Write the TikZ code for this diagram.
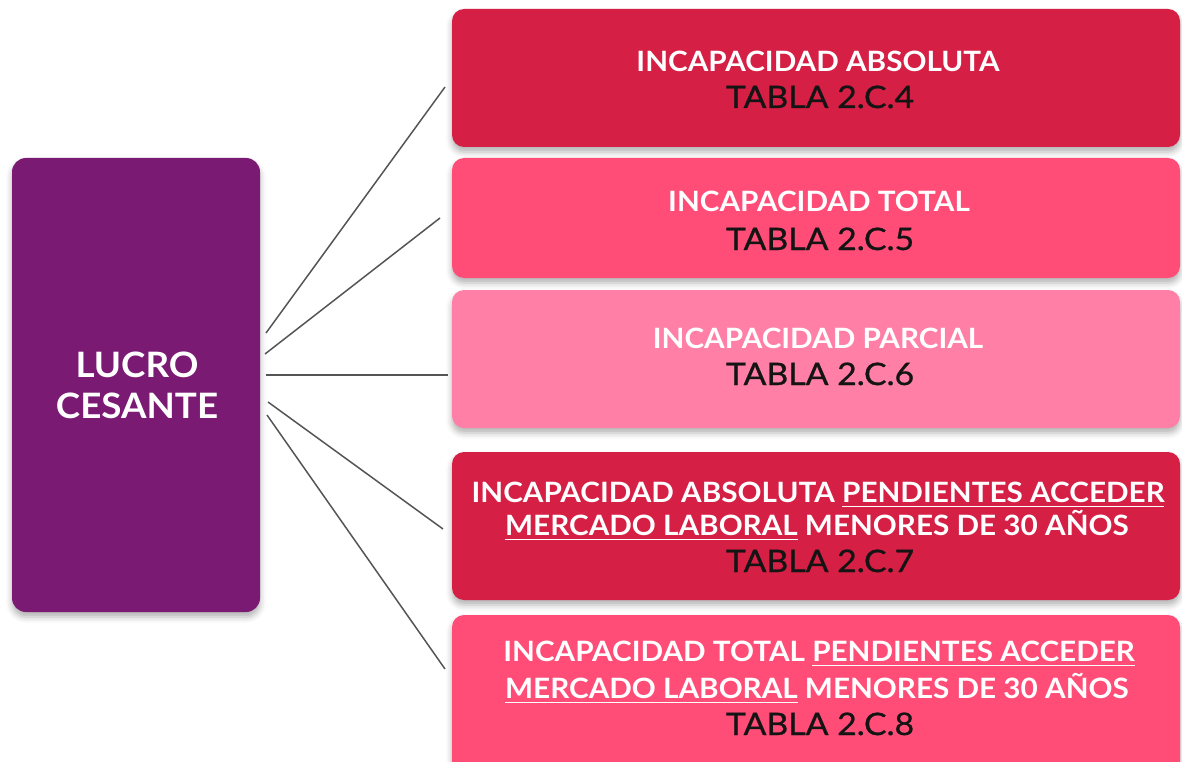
\documentclass[tikz,border=0pt]{standalone}
\usepackage{fontspec}
\setmainfont{Lato}
\newfontfamily\ttlfont[FakeStretch=1.06]{Lato}
\newfontfamily\tblfont[FakeStretch=1.09,FakeBold=0.8]{Lato}
\newfontfamily\bigfont[FakeStretch=1.05]{Lato}
\newcommand{\myul}[1]{\leavevmode\vtop{\hbox{#1}\kern3.5pt\hrule height 1.5pt}}
\usetikzlibrary{shadows.blur}
\definecolor{crim}{RGB}{213,31,68}
\definecolor{rose}{RGB}{255,77,119}
\definecolor{pinkl}{RGB}{255,127,167}
\definecolor{purp}{RGB}{122,26,115}
\definecolor{linkc}{RGB}{85,85,85}
\begin{document}
\begin{tikzpicture}[x=1pt,y=-1pt,
  panel/.style={rounded corners=12pt, minimum width=728pt, inner sep=0pt, draw=none,
    blur shadow={shadow xshift=0pt, shadow yshift=-5pt, shadow blur radius=6pt, shadow opacity=30}},
  ttl/.style={text=white, font=\ttlfont\bfseries\fontsize{28}{30}\selectfont, anchor=base, inner sep=0pt},
  tbl/.style={text=black!92, font=\tblfont\fontsize{31}{33}\selectfont, anchor=base, inner sep=0pt},
  big/.style={text=white, font=\bigfont\bfseries\fontsize{35}{38}\selectfont, anchor=base, inner sep=0pt},
  link/.style={draw=linkc, line width=1.5pt}]
\useasboundingbox (0,0) rectangle (1182,762);

% left box
\node[panel, fill=purp, rounded corners=14pt, minimum width=248pt, minimum height=454pt] (lc) at (136,385) {};
\node[big] (lc1) at (137,377) {LUCRO};
\node[big] (lc2) at (137,418) {CESANTE};

% right boxes
\node[panel, fill=crim, minimum height=138pt] (p1) at (816,78) {};
\node[panel, fill=rose, minimum height=120pt] (p2) at (816,218) {};
\node[panel, fill=pinkl, minimum height=138pt] (p3) at (816,359) {};
\node[panel, fill=crim, minimum height=148pt] (p4) at (816,526) {};
\node[panel, fill=rose, minimum height=160pt] (p5) at (816,695) {};

\node[ttl] (t1) at (818,72) {INCAPACIDAD ABSOLUTA};
\node[tbl] (n1) at (820,108) {TABLA 2.C.4};
\node[ttl] (t2) at (819,211) {INCAPACIDAD TOTAL};
\node[tbl] (n2) at (820,250) {TABLA 2.C.5};
\node[ttl] (t3) at (818,348) {INCAPACIDAD PARCIAL};
\node[tbl] (n3) at (820,385) {TABLA 2.C.6};

\node[ttl] (t4a) at (818,502) {INCAPACIDAD ABSOLUTA \myul{PENDIENTES ACCEDER}};
\node[ttl] (t4b) at (817,535) {\myul{MERCADO LABORAL} MENORES DE 30 AÑOS};
\node[tbl] (n4) at (820,572) {TABLA 2.C.7};
\node[ttl] (t5a) at (819,661) {INCAPACIDAD TOTAL \myul{PENDIENTES ACCEDER}};
\node[ttl] (t5b) at (817,698) {\myul{MERCADO LABORAL} MENORES DE 30 AÑOS};
\node[tbl] (n5) at (820,735) {TABLA 2.C.8};

% connectors
\coordinate (s1) at (266,333); \coordinate (e1) at (445,87);
\coordinate (s2) at (265,354); \coordinate (e2) at (440,218);
\coordinate (s3) at (266,375); \coordinate (e3) at (448,375);
\coordinate (s4) at (268,402); \coordinate (e4) at (443,529);
\coordinate (s5) at (267,415); \coordinate (e5) at (445,669);
\draw[link] (s1) -- (e1);
\draw[link] (s2) -- (e2);
\draw[link] (s3) -- (e3);
\draw[link] (s4) -- (e4);
\draw[link] (s5) -- (e5);
\end{tikzpicture}
\end{document}
